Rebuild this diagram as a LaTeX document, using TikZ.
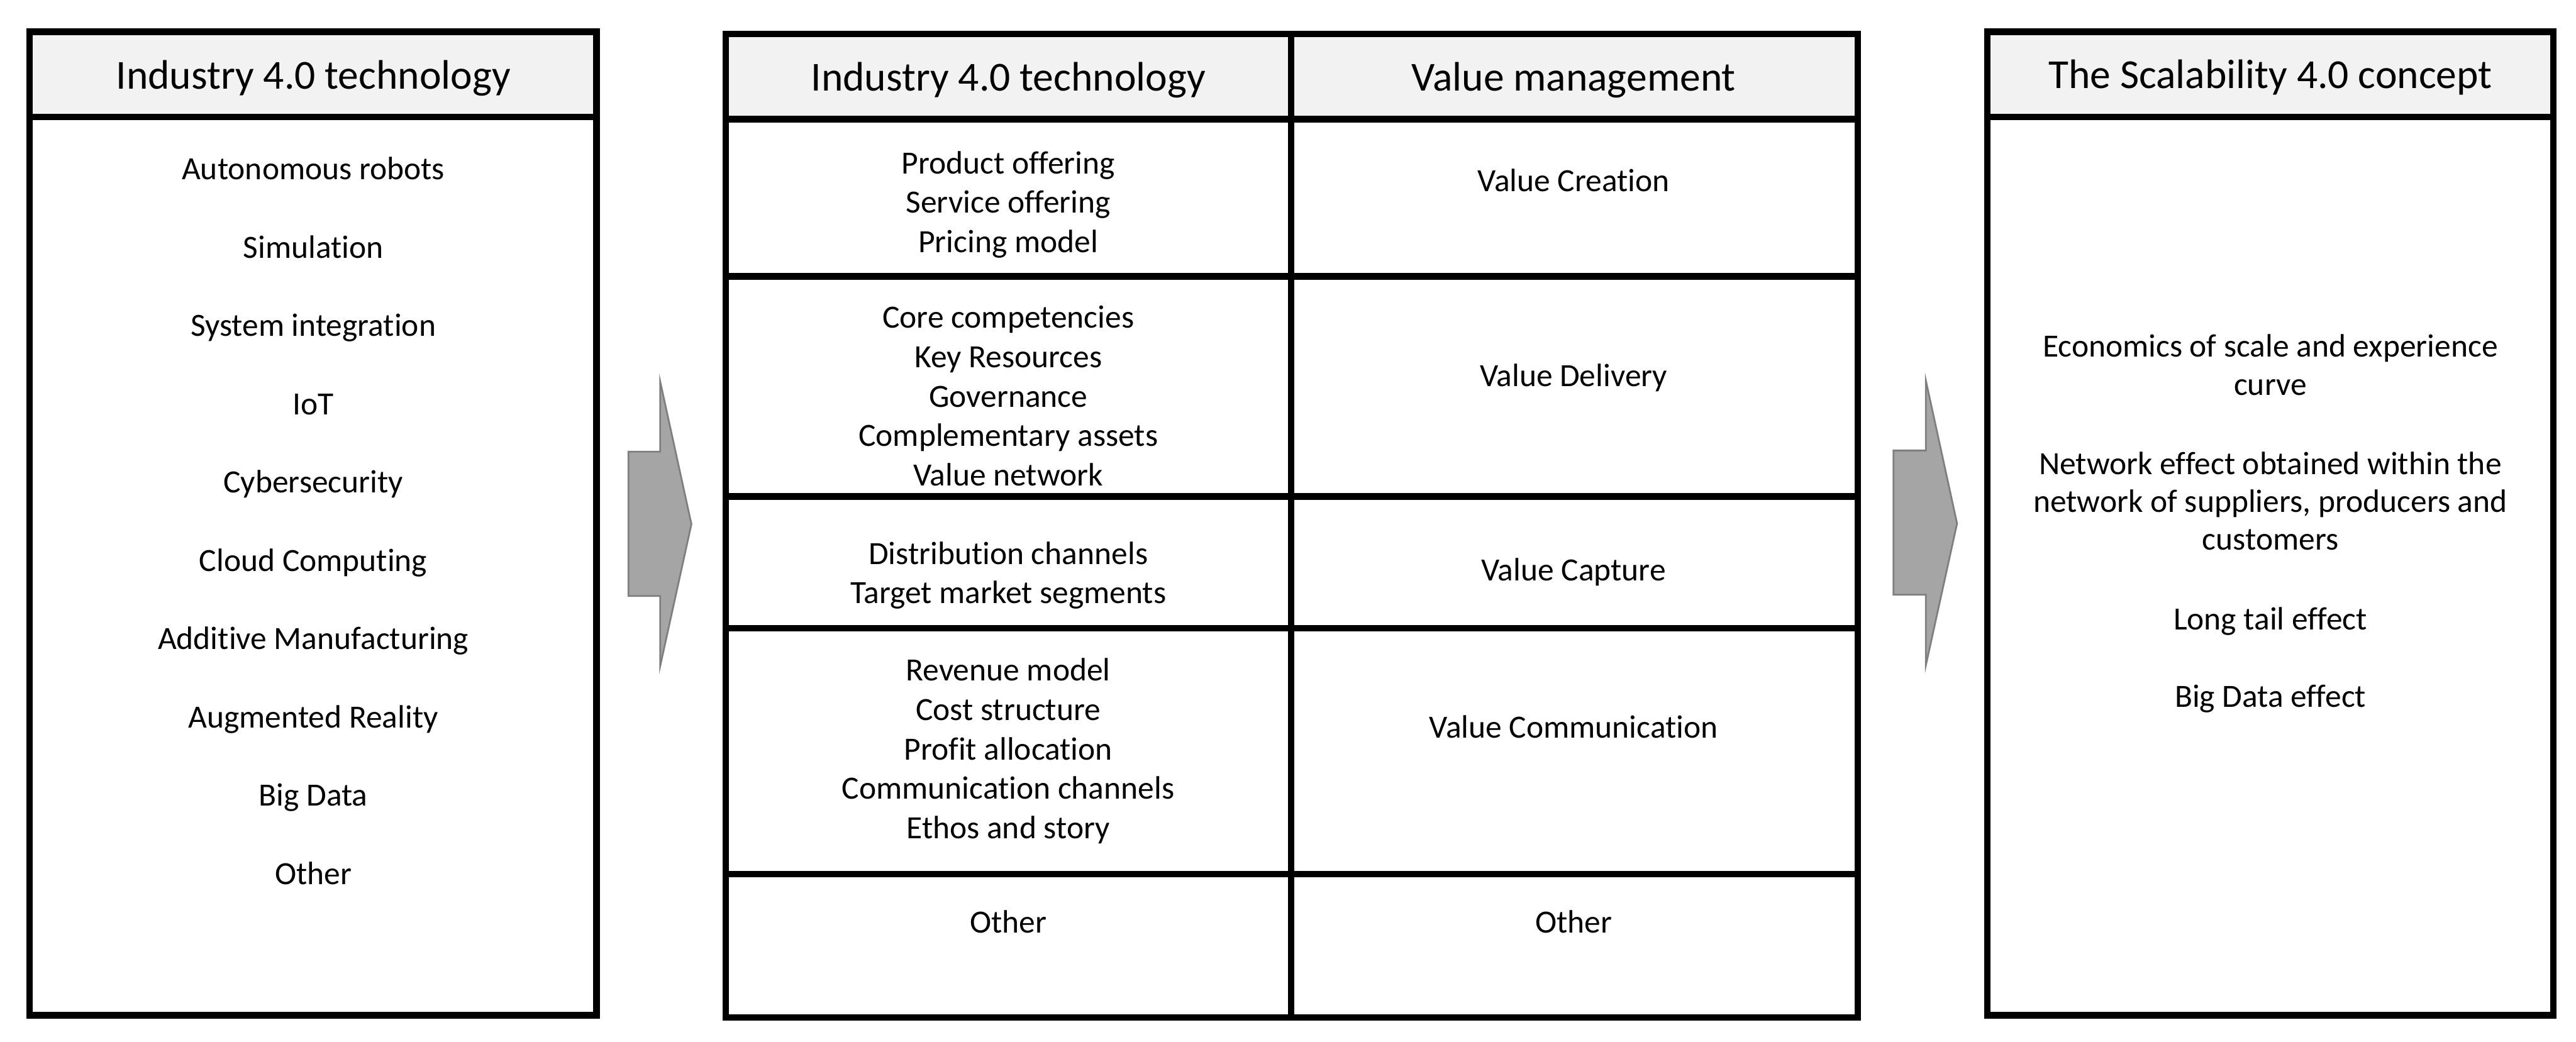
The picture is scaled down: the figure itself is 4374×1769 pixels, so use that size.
\documentclass[tikz,border=0pt]{standalone}
\usepackage{fontspec}
\setmainfont{Carlito}[Ligatures=NoCommon]
\definecolor{hdrfill}{HTML}{F2F2F2}
\definecolor{arrowfill}{HTML}{A5A5A5}
\definecolor{arrowline}{HTML}{7F7F7F}
\begin{document}
\begin{tikzpicture}[x=0.2pt,y=-0.2pt,
  frame/.style={draw=black,line width=2.2pt},
  hdrtext/.style={font=\fontsize{14}{17}\selectfont,anchor=base,inner sep=0pt},
  celltext/.style={font=\fontsize{11}{13.4}\selectfont,anchor=base,inner sep=0pt},
  blockarrow/.style={fill=arrowfill,draw=arrowline,line width=0.6pt,line join=miter}]
\useasboundingbox (0,0) rectangle (4374,1769);

% ---------- left box ----------
\fill[hdrfill] (50,54) rectangle (1013,199);
\draw[frame] (50,54) rectangle (1013,1724);
\draw[frame] (50,199) -- (1013,199);
\node[hdrtext] (lh) at (532,151) {Industry 4.0 technology};
\foreach \t [count=\i from 0] in {Autonomous robots, Simulation, System integration,
    IoT, Cybersecurity, Cloud Computing, Additive Manufacturing, Augmented Reality,
    Big Data, Other}
  \node[celltext] (l\i) at (532,{305+133*\i}) {\t};

% ---------- arrow 1 ----------
\draw[blockarrow] (1067,767) -- (1121,767) -- (1121,648) -- (1174,890)
  -- (1121,1131) -- (1121,1012) -- (1067,1012) -- cycle;

% ---------- middle table ----------
\fill[hdrfill] (1232.5,57.5) rectangle (3154.5,202.5);
\draw[frame] (1232.5,57.5) rectangle (3154.5,1728);
\draw[frame] (1232.5,202.5) -- (3154.5,202.5);
\draw[frame] (1232.5,469.5) -- (3154.5,469.5);
\draw[frame] (1232.5,843) -- (3154.5,843);
\draw[frame] (1232.5,1067) -- (3154.5,1067);
\draw[frame] (1232.5,1484) -- (3154.5,1484);
\draw[frame] (2192,57.5) -- (2192,1728);

\node[hdrtext] (mh1) at (1712,154) {Industry 4.0 technology};
\node[hdrtext] (mh2) at (2672,154) {Value management};

\foreach \t [count=\i from 0] in {Product offering, Service offering, Pricing model}
  \node[celltext] (ma\i) at (1712,{295+67*\i}) {\t};
\foreach \t [count=\i from 0] in {Core competencies, Key Resources, Governance,
    Complementary assets, Value network}
  \node[celltext] (mb\i) at (1712,{557+67*\i}) {\t};
\foreach \t [count=\i from 0] in {Distribution channels, Target market segments}
  \node[celltext] (mc\i) at (1712,{958+67*\i}) {\t};
\foreach \t [count=\i from 0] in {Revenue model, Cost structure, Profit allocation,
    Communication channels, Ethos and story}
  \node[celltext] (md\i) at (1712,{1156+67*\i}) {\t};
\node[celltext] (me) at (1712,1584) {Other};

\node[celltext] (va) at (2672,325) {Value Creation};
\node[celltext] (vb) at (2672,656) {Value Delivery};
\node[celltext] (vc) at (2672,986) {Value Capture};
\node[celltext] (vd) at (2672,1253) {Value Communication};
\node[celltext] (ve) at (2672,1584) {Other};

% ---------- arrow 2 ----------
\draw[blockarrow] (3215,765) -- (3270,765) -- (3270,646) -- (3323,889)
  -- (3270,1130) -- (3270,1010) -- (3215,1010) -- cycle;

% ---------- right box ----------
\fill[hdrfill] (3374.5,54) rectangle (4335.5,199);
\draw[frame] (3374.5,54) rectangle (4335.5,1724);
\draw[frame] (3374.5,199) -- (4335.5,199);
\node[hdrtext] (rh) at (3855,150) {The Scalability 4.0 concept};
\node[celltext] (ra0) at (3855,606) {Economics of scale and experience};
\node[celltext] (ra1) at (3855,671) {curve};
\node[celltext] (rb0) at (3855,806) {Network effect obtained within the};
\node[celltext] (rb1) at (3855,870) {network of suppliers, producers and};
\node[celltext] (rb2) at (3855,934) {customers};
\node[celltext] (rc) at (3855,1069) {Long tail effect};
\node[celltext] (rd) at (3855,1201) {Big Data effect};
\end{tikzpicture}
\end{document}
